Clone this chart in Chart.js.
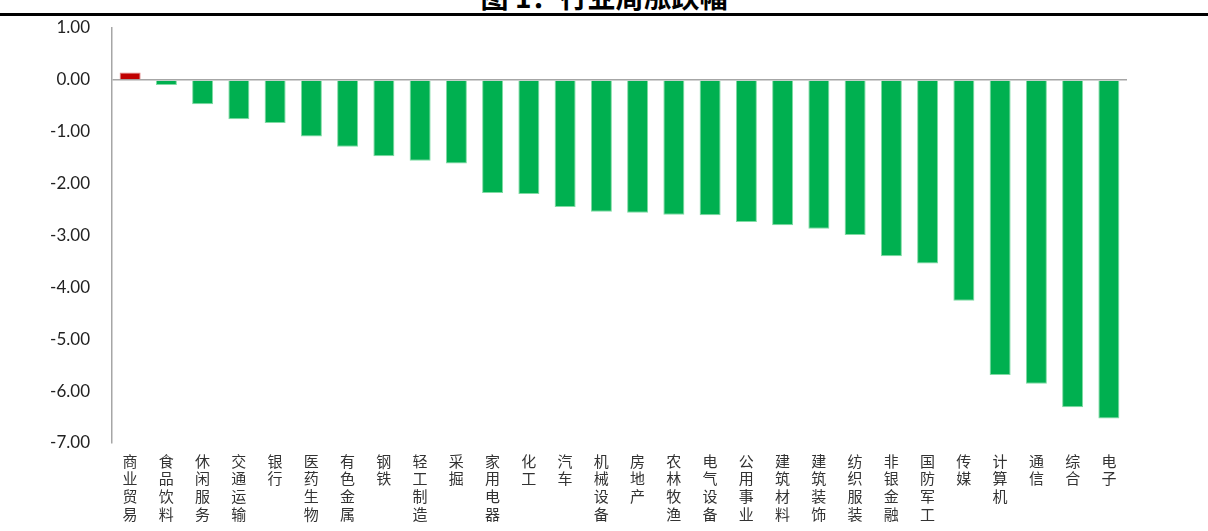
<!DOCTYPE html>
<html>
<head>
<meta charset="utf-8">
<script src="https://cdn.jsdelivr.net/npm/chart.js@4/dist/chart.umd.min.js"></script>
<style>
    body { margin: 0; background: #fff; overflow: hidden; }
    #wrap { position: relative; width: 1208px; height: 531px; }
    #title {
        position: absolute; left: 0; top: -18px; width: 1208px; text-align: center;
        font: bold 28px/28px "Noto Sans CJK SC", sans-serif; color: #000;
    }
    #rule { position: absolute; left: 0; top: 13px; width: 1208px; height: 2.5px; background: #000; }
    canvas { position: absolute; left: 0; top: 0; }
</style>
</head>
<body>
<div id="wrap">
    <div id="title">图 1：行业周涨跌幅</div>
    <div id="rule"></div>
    <canvas id="myChart" width="1208" height="531"></canvas>
</div>
<script>
const industries = ['商业贸易', '食品饮料', '休闲服务', '交通运输', '银行', '医药生物', '有色金属', '钢铁',
    '轻工制造', '采掘', '家用电器', '化工', '汽车', '机械设备', '房地产', '农林牧渔', '电气设备',
    '公用事业', '建筑材料', '建筑装饰', '纺织服装', '非银金融', '国防军工', '传媒', '计算机', '通信',
    '综合', '电子'];
const weeklyChange = [0.14, -0.10, -0.47, -0.76, -0.83, -1.09, -1.29, -1.47, -1.56, -1.61, -2.18, -2.20,
    -2.45, -2.54, -2.56, -2.60, -2.61, -2.74, -2.80, -2.87, -2.99, -3.40, -3.54, -4.26, -5.69, -5.86,
    -6.31, -6.53];
const yTicks = [1, 0, -1, -2, -3, -4, -5, -6, -7];

// red for gains, green for losses
const barColors = weeklyChange.map(v => v >= 0 ? '#c00000' : '#00b050');
const edgeColors = weeklyChange.map(v => v >= 0 ? '#e08080' : '#7fdba3');

const ctx = document.getElementById('myChart');
const chart = new Chart(ctx, {
    type: 'bar',
    data: {
        labels: industries.map(s => s.split('')),
        datasets: [{
            data: weeklyChange,
            backgroundColor: barColors,
            borderColor: edgeColors,
            borderWidth: 1,
            barPercentage: 0.58,
            categoryPercentage: 1
        }]
    },
    options: {
        responsive: false,
        animation: false,
        layout: { padding: { top: 28, right: 81, bottom: 0, left: 0 } },
        plugins: { legend: { display: false }, tooltip: { enabled: false } },
        scales: {
            x: {
                grid: { display: false },
                border: { display: false },
                ticks: {
                    autoSkip: false,
                    maxRotation: 0,
                    minRotation: 0,
                    padding: 1,
                    color: '#333',
                    font: { family: '"Noto Sans CJK SC", sans-serif', size: 15, lineHeight: 1.18 }
                },
                afterFit: s => { s.height = 88; }
            },
            y: {
                min: -7,
                max: 1,
                afterBuildTicks: s => { s.ticks = yTicks.map(v => ({ value: v })); },
                grid: {
                    drawTicks: false,
                    lineWidth: 1.5,
                    color: c => c.tick && c.tick.value === 0 ? '#a6a6a6' : 'rgba(0,0,0,0)'
                },
                border: { display: true, color: '#a6a6a6', width: 1.5 },
                ticks: {
                    padding: 22,
                    color: '#222',
                    font: { family: 'Lato, sans-serif', size: 17 },
                    callback: v => v.toFixed(2)
                },
                afterFit: s => {
                    s.width = 112;
                    // keep the plot top flush with the 1.00 tick
                    s.paddingTop = 0;
                    s.paddingBottom = 0;
                }
            }
        }
    }
});
</script>
</body>
</html>
